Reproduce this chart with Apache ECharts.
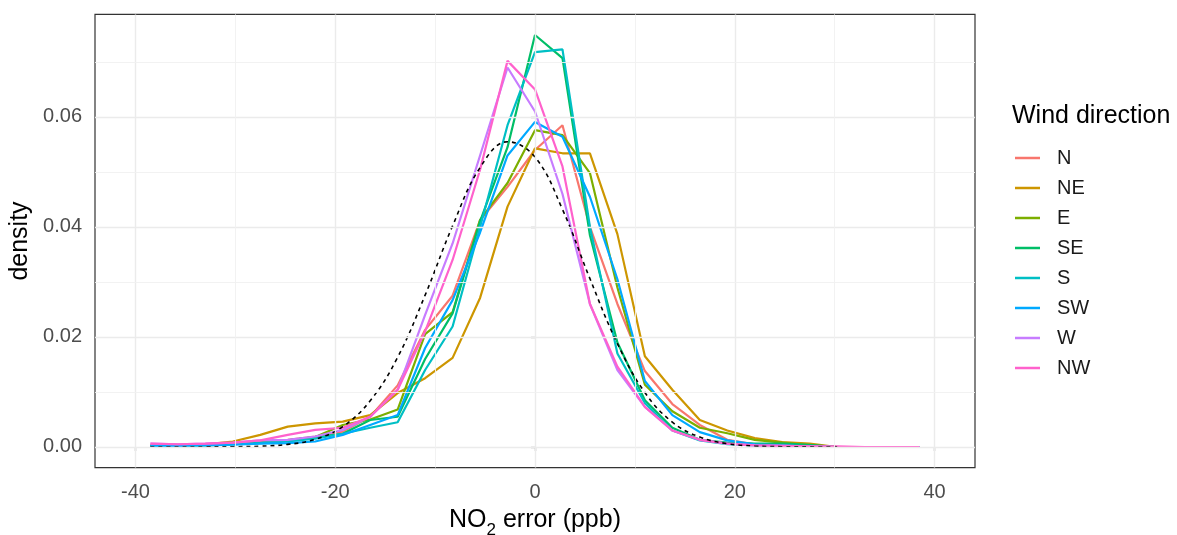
<!DOCTYPE html>
<html><head><meta charset="utf-8">
<script src="https://cdn.jsdelivr.net/npm/echarts@6/dist/echarts.min.js"></script>
<style>html,body{margin:0;padding:0;background:#fff}#c{width:1177px;height:535px}</style>
</head><body><div id="c"></div>
<script>
// bin centres (NO2 error, ppb)
const xBins = [-38.5,-35.75,-33,-30.25,-27.5,-24.75,-22,-19.25,-16.5,-13.75,-11,-8.25,-5.5,-2.75,0,2.75,5.5,8.25,11,13.75,16.5,19.25,22,24.75,27.5,30.25,33,35.75,38.5];
const seriesNames = ['N','NE','E','SE','S','SW','W','NW'];
const seriesColors = ['#F8766D','#CD9600','#7CAE00','#00BE67','#00BFC4','#00A9FF','#C77CFF','#FF61CC'];
const dN  = [0.0003,0.0003,0.0004,0.0006,0.0009,0.0013,0.0019,0.0028,0.0055,0.0112,0.0213,0.0275,0.0412,0.0473,0.0540,0.0585,0.0400,0.0260,0.0138,0.0078,0.0040,0.0013,0.0005,0.0003,0.0001,0,0,0,0];
const dNE = [0.0002,0.0003,0.0005,0.0010,0.0022,0.0037,0.0043,0.0046,0.0058,0.0098,0.0125,0.0162,0.0271,0.0437,0.0543,0.0534,0.0534,0.0387,0.0165,0.0104,0.0049,0.0030,0.0016,0.0009,0.0006,0,0,0,0];
const dE  = [0.0002,0.0003,0.0004,0.0006,0.0008,0.0012,0.0018,0.0040,0.0050,0.0068,0.0205,0.0245,0.0413,0.0480,0.0576,0.0567,0.0498,0.0290,0.0113,0.0065,0.0035,0.0025,0.0013,0.0008,0.0003,0,0,0,0];
const dSE = [0.0002,0.0002,0.0003,0.0005,0.0008,0.0012,0.0018,0.0024,0.0049,0.0055,0.0160,0.0243,0.0410,0.0545,0.0749,0.0707,0.0385,0.0190,0.0085,0.0035,0.0013,0.0008,0.0006,0.0006,0.0004,0,0,0,0];
const dS  = [0.0002,0.0002,0.0003,0.0005,0.0007,0.0010,0.0015,0.0024,0.0035,0.0045,0.0140,0.0219,0.0400,0.0585,0.0718,0.0723,0.0400,0.0170,0.0080,0.0030,0.0012,0.0005,0.0003,0.0002,0.0001,0,0,0,0];
const dSW = [0.0002,0.0002,0.0003,0.0004,0.0006,0.0007,0.0010,0.0022,0.0040,0.0058,0.0180,0.0267,0.0390,0.0530,0.0591,0.0564,0.0455,0.0305,0.0120,0.0058,0.0027,0.0012,0.0005,0.0003,0.0001,0,0,0,0];
const dW  = [0.0006,0.0005,0.0006,0.0008,0.0012,0.0013,0.0019,0.0031,0.0055,0.0104,0.0240,0.0370,0.0530,0.0690,0.0610,0.0460,0.0260,0.0140,0.0073,0.0030,0.0013,0.0006,0.0003,0.0002,0.0001,0,0,0,0];
const dNW = [0.0006,0.0005,0.0006,0.0008,0.0012,0.0022,0.0031,0.0035,0.0055,0.0104,0.0210,0.0340,0.0504,0.0702,0.0650,0.0510,0.0260,0.0146,0.0073,0.0030,0.0013,0.0006,0.0003,0.0002,0.0001,0.0001,0,0,0];
// reference normal density curve (dashed)
const normX = [-38.5,-35.75,-33,-30.25,-27.5,-24.75,-22,-19.25,-16.5,-13.75,-11,-8.25,-5.5,-2.75,0,2.75,5.5,8.25,11,13.75,16.5,19.25,22,24.75,27.5,30.25];
const normY = [0,0,0.00001,0.00004,0.00014,0.00047,0.0014,0.0037,0.0084,0.0163,0.0276,0.0402,0.0508,0.0555,0.0527,0.0432,0.0306,0.0188,0.0099,0.0045,0.0018,0.0006,0.00018,0.00005,0.00001,0];
// ticks
const xTicks = [-40,-20,0,20,40];
const xMinor = [-30,-10,10,30];
const yTicks = [0,0.02,0.04,0.06];
const yMinor = [0.01,0.03,0.05,0.07];

const seriesData = [dN,dNE,dE,dSE,dS,dSW,dW,dNW];
const FONT = '"Liberation Sans", Arial, sans-serif';
const chart = echarts.init(document.getElementById('c'), null, {renderer:'canvas'});

const series = [
  {type:'line', name:'_major', data:[], z:1, silent:true,
   markLine:{silent:true, symbol:['none','none'], label:{show:false}, animation:false,
     lineStyle:{color:'#EBEBEB', width:1.4, type:'solid'},
     emphasis:{disabled:true},
     data:[...xTicks.map(v=>({xAxis:v})), ...yTicks.map(v=>({yAxis:v}))]}},
  {type:'line', name:'_minor', data:[], z:1, silent:true,
   markLine:{silent:true, symbol:['none','none'], label:{show:false}, animation:false,
     lineStyle:{color:'#F0F0F0', width:0.9, type:'solid'},
     emphasis:{disabled:true},
     data:[...xMinor.map(v=>({xAxis:v})), ...yMinor.map(v=>({yAxis:v}))]}}
];
seriesNames.forEach((n,i)=>{
  series.push({type:'line', name:n, z:3, showSymbol:false, symbol:'none',
    data: xBins.map((x,j)=>[x, seriesData[i][j]]),
    lineStyle:{color:seriesColors[i], width:2.2}, itemStyle:{color:seriesColors[i]},
    emphasis:{disabled:true}, animation:false});
});
series.push({type:'line', name:'normal', z:4, showSymbol:false, symbol:'none', smooth:0.4,
  data: normX.map((x,j)=>[x, normY[j]]),
  lineStyle:{color:'#000', width:1.6, type:[4,4]}, emphasis:{disabled:true}, animation:false});

chart.setOption({
  animation:false,
  backgroundColor:'#fff',
  textStyle:{fontFamily:FONT},
  grid:{left:95, right:202, top:14.4, bottom:67.4, show:true, borderColor:'#333333', borderWidth:1.2,
    backgroundColor:'transparent', containLabel:false, outerBoundsMode:'none'},
  title:{text:'Wind direction', left:1012, top:104, padding:0,
    textStyle:{fontFamily:FONT, fontSize:25, fontWeight:'normal', color:'#000'}},
  legend:{data:seriesNames, orient:'vertical', left:1015, top:148, padding:0,
    icon:'rect', itemWidth:25, itemHeight:2.5, itemGap:10, selectedMode:false,
    textStyle:{fontFamily:FONT, fontSize:20, color:'#1A1A1A', lineHeight:20, padding:[0,0,0,12]}},
  xAxis:{type:'value', min:-44.05, max:44.05,
    axisLine:{show:false}, splitLine:{show:false},
    axisTick:{show:true, customValues:xTicks, length:4, inside:false, lineStyle:{color:'#333333', width:1.2}},
    axisLabel:{customValues:xTicks, margin:15, fontSize:20, color:'#4D4D4D', fontFamily:FONT},
    name:'{a|NO}{b|2}{a| error (ppb)}', nameLocation:'middle', nameGap:40, nameMoveOverlap:false,
    nameTextStyle:{rich:{a:{fontSize:25, color:'#000', fontFamily:FONT, lineHeight:25, verticalAlign:'bottom'},
                         b:{fontSize:17, color:'#000', fontFamily:FONT, lineHeight:17, verticalAlign:'bottom', padding:[0,0,-6,0]}}}},
  yAxis:{type:'value', min:-0.00375, max:0.07865,
    axisLine:{show:false}, splitLine:{show:false},
    axisTick:{show:true, customValues:yTicks, length:4, inside:false, lineStyle:{color:'#333333', width:1.2}},
    axisLabel:{customValues:yTicks, margin:13, fontSize:20, color:'#4D4D4D', fontFamily:FONT, formatter:v=>Number(v).toFixed(2)},
    name:'density', nameLocation:'middle', nameGap:62, nameRotate:90, nameMoveOverlap:false,
    nameTextStyle:{fontSize:25, color:'#000', fontFamily:FONT, padding:[8,0,0,0]}},
  series: series
});
</script></body></html>
